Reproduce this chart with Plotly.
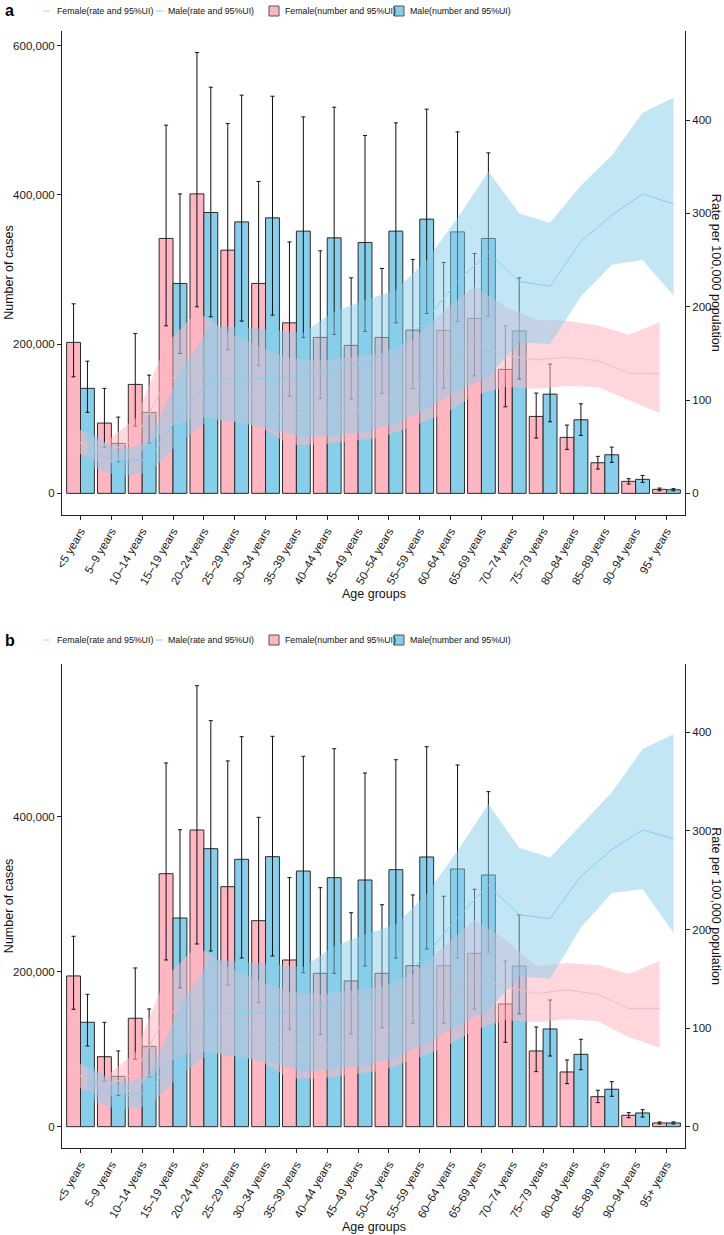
import plotly.graph_objects as go
from plotly.subplots import make_subplots

# ---------------- data ----------------
age_groups = ["<5 years", "5–9 years", "10–14 years", "15–19 years", "20–24 years",
              "25–29 years", "30–34 years", "35–39 years", "40–44 years", "45–49 years",
              "50–54 years", "55–59 years", "60–64 years", "65–69 years", "70–74 years",
              "75–79 years", "80–84 years", "85–89 years", "90–94 years", "95+ years"]

# Panel a : numbers
a_num_f = [202300, 94200, 146000, 341600, 401300, 325900, 281300, 228500, 209000, 198300,
           209000, 218800, 218400, 234400, 166100, 103100, 75000, 41000, 16100, 5400]
a_num_f_up = [254000, 140700, 214300, 493400, 590800, 495700, 418000, 337000, 325000, 288800,
              301400, 313500, 309400, 321500, 224500, 134400, 91500, 49600, 19600, 7100]
a_num_f_lo = [156200, 61600, 90200, 224500, 250000, 192400, 171500, 129900, 127300, 126300,
              134000, 140700, 140700, 157500, 116000, 74100, 58900, 32600, 12500, 3500]
a_num_m = [140700, 67000, 108500, 281300, 376400, 363800, 369200, 351400, 342400, 336200,
           351400, 367500, 350400, 341600, 217800, 133000, 98600, 51700, 18800, 4800]
a_num_m_up = [177200, 102200, 158500, 401300, 544300, 533600, 532200, 504500, 517500, 479600,
              496500, 514800, 484400, 456300, 288800, 173200, 120000, 62000, 24100, 6300]
a_num_m_lo = [108500, 42300, 67400, 187500, 236600, 230800, 238900, 209000, 213000, 217000,
              228500, 241100, 230400, 237500, 153100, 95900, 77700, 41500, 14700, 3400]
# Panel a : rates
a_rate_f = [58, 42, 58, 120, 137, 109, 99, 86, 85, 89, 98, 114, 130, 162, 148, 143, 146, 142, 129, 128]
a_rate_f_up = [72, 54, 80, 160, 195, 172, 158, 145, 142, 146, 150, 165, 195, 222, 200, 186, 185, 180, 170, 183]
a_rate_f_lo = [45, 31, 38, 70, 82, 78, 72, 52, 52, 56, 60, 72, 85, 105, 114, 112, 115, 114, 100, 86]
a_rate_m = [48, 32, 37, 85, 121, 124, 123, 126, 134, 141, 152, 187, 227, 258, 227, 222, 270, 298, 321, 310]
a_rate_m_up = [68, 45, 55, 130, 180, 178, 175, 172, 195, 207, 218, 250, 295, 345, 300, 290, 330, 362, 408, 424]
a_rate_m_lo = [30, 18, 22, 55, 80, 75, 68, 60, 62, 66, 75, 90, 110, 125, 162, 160, 211, 245, 250, 212]

# Panel b : numbers
b_num_f = [194500, 90300, 139900, 326400, 382800, 309700, 265800, 215100, 197900, 188000,
           197900, 207700, 207700, 223700, 158300, 97700, 70600, 38700, 14700, 4800]
b_num_f_up = [245700, 134700, 204800, 469300, 569000, 471900, 399200, 321300, 308400, 276100,
              286400, 299000, 297300, 306300, 213800, 128600, 86100, 47000, 18100, 6100]
b_num_f_lo = [151500, 59000, 87000, 215100, 235700, 182800, 160000, 125700, 119200, 119600,
              127700, 133400, 133400, 151500, 108900, 71000, 55500, 31000, 11600, 3400]
b_num_m = [134700, 65000, 103700, 269300, 358700, 345000, 348400, 329900, 321300, 318300,
           331600, 348000, 332500, 324800, 207400, 126100, 93400, 48300, 17700, 4800]
b_num_m_up = [170800, 97700, 151900, 383200, 523900, 503200, 503700, 477900, 487700, 456400,
              473500, 490300, 466700, 432300, 273200, 163500, 112800, 58100, 21900, 6200]
b_num_m_lo = [104100, 40500, 64100, 179000, 226700, 217700, 220300, 198700, 197900, 207400,
              217700, 229300, 217700, 225400, 145400, 91200, 73500, 39200, 12500, 3500]
# Panel b : rates
b_rate_f = [55, 40, 55, 113, 128, 102, 93, 81, 80, 84, 93, 110, 127, 153, 142, 135, 139, 134, 120, 120]
b_rate_f_up = [68, 50, 75, 152, 183, 162, 148, 137, 134, 138, 142, 155, 183, 210, 190, 163, 166, 164, 155, 168]
b_rate_f_lo = [42, 29, 36, 66, 77, 73, 68, 49, 49, 53, 57, 68, 80, 98, 108, 106, 109, 107, 91, 80]
b_rate_m = [45, 30, 35, 80, 114, 116, 115, 118, 125, 132, 143, 175, 212, 245, 215, 211, 254, 281, 301, 292]
b_rate_m_up = [64, 42, 52, 122, 170, 167, 165, 162, 183, 195, 205, 236, 280, 327, 283, 273, 306, 339, 383, 398]
b_rate_m_lo = [28, 17, 21, 52, 75, 70, 64, 56, 58, 62, 70, 85, 103, 118, 152, 150, 202, 237, 241, 197]

left_ticks_a = [0, 200000, 400000, 600000]
left_ticks_b = [0, 200000, 400000]
right_ticks = [0, 100, 200, 300, 400]

# ---------------- styling ----------------
W, H = 724, 1235
PINK = "#FFB6C1"
BLUE = "#87CEEB"
PINK_FILL = "rgba(255,182,193,0.55)"
BLUE_FILL = "rgba(135,206,235,0.5)"
FONT = "Liberation Sans, Arial, sans-serif"
DODGE = 0.225
BW = 0.45

fig = make_subplots(rows=2, cols=1, specs=[[{"secondary_y": True}], [{"secondary_y": True}]])

idx = list(range(len(age_groups)))
xf = [i - DODGE for i in idx]
xm = [i + DODGE for i in idx]


def add_panel(row, nf, nfu, nfl, nm, nmu, nml, rf, rfu, rfl, rm, rmu, rml):
    for x, v, up, lo, col in [(xf, nf, nfu, nfl, PINK), (xm, nm, nmu, nml, BLUE)]:
        fig.add_trace(go.Bar(
            x=x, y=v, width=BW, marker=dict(color=col, line=dict(color="#2a2a2a", width=1)),
            error_y=dict(type="data", symmetric=False,
                         array=[u - a for u, a in zip(up, v)],
                         arrayminus=[a - l for l, a in zip(lo, v)],
                         color="#111111", thickness=1, width=2),
            showlegend=False, hoverinfo="skip"), row=row, col=1, secondary_y=False)
    for x, r, up, lo, col, fill in [(xf, rf, rfu, rfl, PINK, PINK_FILL), (xm, rm, rmu, rml, BLUE, BLUE_FILL)]:
        fig.add_trace(go.Scatter(
            x=x + x[::-1], y=up + lo[::-1], fill="toself", fillcolor=fill,
            line=dict(width=0), mode="lines", showlegend=False, hoverinfo="skip"),
            row=row, col=1, secondary_y=True)
        fig.add_trace(go.Scatter(
            x=x, y=r, mode="lines", line=dict(color=col, width=1),
            showlegend=False, hoverinfo="skip"), row=row, col=1, secondary_y=True)


add_panel(1, a_num_f, a_num_f_up, a_num_f_lo, a_num_m, a_num_m_up, a_num_m_lo,
          a_rate_f, a_rate_f_up, a_rate_f_lo, a_rate_m, a_rate_m_up, a_rate_m_lo)
add_panel(2, b_num_f, b_num_f_up, b_num_f_lo, b_num_m, b_num_m_up, b_num_m_lo,
          b_rate_f, b_rate_f_up, b_rate_f_lo, b_rate_m, b_rate_m_up, b_rate_m_lo)


def py(px):
    return 1 - px / H


def pxx(px):
    return px / W


X0, X1 = 62, 685
panels = [dict(top=30.7, bot=515, yr=[-29000, 620000], y2r=[-23.2, 495.8], lt=left_ticks_a, ly=11),
          dict(top=664, bot=1148.3, yr=[-27900, 597000], y2r=[-21.9, 469.3], lt=left_ticks_b, ly=640)]

axis_common = dict(showline=True, linecolor="#222222", linewidth=1, ticks="outside",
                   ticklen=4, tickcolor="#222222", showgrid=False, zeroline=False,
                   automargin=False,
                   tickfont=dict(family=FONT, size=11.5, color="#1a1a1a"))

for k, p in enumerate(panels):
    xa = "xaxis" if k == 0 else "xaxis2"
    ya = "yaxis" if k == 0 else "yaxis3"
    y2 = "yaxis2" if k == 0 else "yaxis4"
    fig.update_layout(**{
        xa: dict(domain=[pxx(X0), pxx(X1)], range=[-0.6, 19.6], tickmode="array",
                 tickvals=idx, ticktext=age_groups, tickangle=-60, **axis_common),
        ya: dict(domain=[py(p["bot"]), py(p["top"])], range=p["yr"], tickmode="array",
                 tickvals=p["lt"], ticktext=[f"{v:,}" for v in p["lt"]], **axis_common),
        y2: dict(range=p["y2r"], tickmode="array", tickvals=right_ticks,
                 ticktext=[str(v) for v in right_ticks], side="right", **axis_common),
    })
    mid = (p["top"] + p["bot"]) / 2
    fig.add_annotation(x=pxx(9), y=py(mid), xref="paper", yref="paper", text="Number of cases",
                       textangle=-90, showarrow=False, xanchor="center", yanchor="middle",
                       font=dict(family=FONT, size=12.5, color="#111"))
    fig.add_annotation(x=pxx(716), y=py(mid), xref="paper", yref="paper",
                       text="Rate per 100,000 population", textangle=90, showarrow=False,
                       xanchor="center", yanchor="middle",
                       font=dict(family=FONT, size=12.5, color="#111"))
    fig.add_annotation(x=pxx((X0 + X1) / 2), y=py(p["bot"] + 79), xref="paper", yref="paper",
                       text="Age groups", showarrow=False, xanchor="center", yanchor="middle",
                       font=dict(family=FONT, size=12.5, color="#111"))
    # panel letter
    ly = p["ly"]
    fig.add_annotation(x=pxx(3), y=py(ly), xref="paper", yref="paper",
                       text="<b>%s</b>" % ("a" if k == 0 else "b"),
                       showarrow=False, xanchor="left", yanchor="middle",
                       font=dict(family=FONT, size=16, color="#000"))
    # manual legend (ggplot style)
    items = [("line", PINK, 43, 55, "Female(rate and 95%UI)"),
             ("line", BLUE, 156, 165.5, "Male(rate and 95%UI)"),
             ("box", PINK, 269, 282.5, "Female(number and 95%UI)"),
             ("box", BLUE, 394, 408, "Male(number and 95%UI)")]
    for kind, col, sx, tx, label in items:
        if kind == "line":
            fig.add_shape(type="line", xref="paper", yref="paper", x0=pxx(sx), x1=pxx(sx + 7),
                          y0=py(ly), y1=py(ly), line=dict(color=col, width=1))
        else:
            fig.add_shape(type="rect", xref="paper", yref="paper", x0=pxx(sx), x1=pxx(sx + 10),
                          y0=py(ly - 5), y1=py(ly + 5), fillcolor=col,
                          line=dict(color="#555555", width=1))
        fig.add_annotation(x=pxx(tx), y=py(ly), xref="paper", yref="paper", text=label,
                           showarrow=False, xanchor="left", yanchor="middle",
                           font=dict(family=FONT, size=8.8, color="#111"))

fig.update_layout(width=W, height=H, autosize=False, margin=dict(l=0, r=0, t=0, b=0, pad=0),
                  plot_bgcolor="white", paper_bgcolor="white", barmode="overlay",
                  showlegend=False, font=dict(family=FONT))

fig.write_html("out.html", config={"displayModeBar": False},
               post_script="document.body.style.margin='0px';document.body.style.padding='0px';")
